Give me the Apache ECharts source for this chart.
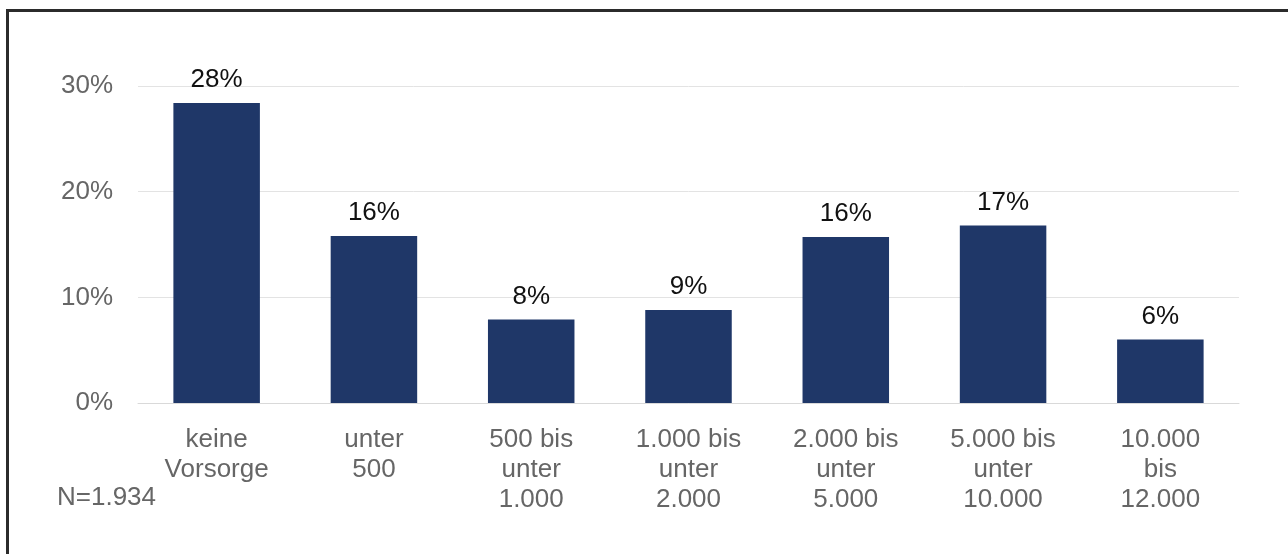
<!DOCTYPE html>
<html>
<head>
<meta charset="utf-8">
<script src="https://cdn.jsdelivr.net/npm/echarts@6/dist/echarts.min.js"></script>
<style>
  html, body { margin: 0; padding: 0; background: #fff; }
  #frame { position: absolute; left: 6px; top: 9px; width: 1290px; height: 560px;
           border-left: 3px solid #2b2b2b; border-top: 3px solid #2b2b2b; }
  #chart { position: absolute; left: 0; top: 0; width: 1288px; height: 554px; }
</style>
</head>
<body>
<div id="chart"></div>
<div id="frame"></div>
<script>
// Share of respondents by amount of provision (in percent)
const categories = [
  'keine\nVorsorge',
  'unter\n500',
  '500 bis\nunter\n1.000',
  '1.000 bis\nunter\n2.000',
  '2.000 bis\nunter\n5.000',
  '5.000 bis\nunter\n10.000',
  '10.000\nbis\n12.000'
];
const shares = [28.4, 15.8, 7.9, 8.8, 15.7, 16.8, 6.0];
const yTicks = [0, 10, 20, 30];
const sampleNote = 'N=1.934';

const chart = echarts.init(document.getElementById('chart'));
const font = '"Liberation Sans", Arial, sans-serif';

chart.setOption({
  animation: false,
  grid: { left: 138, right: 49, top: 86, bottom: 151 },
  graphic: [{
    type: 'text', left: 57, top: 485,
    style: { text: sampleNote, fill: '#666666', font: '26px ' + font }
  }],
  xAxis: {
    type: 'category',
    data: categories,
    axisTick: { show: false },
    axisLine: { show: true, lineStyle: { color: '#d9d9d9', width: 1 } },
    axisLabel: {
      color: '#666666', fontFamily: font, fontSize: 26,
      lineHeight: 30, margin: 22, interval: 0
    }
  },
  yAxis: {
    type: 'value',
    min: yTicks[0], max: yTicks[yTicks.length - 1], interval: 10,
    axisLine: { show: false },
    axisTick: { show: false },
    splitLine: { lineStyle: { color: '#e3e3e3', width: 1 } },
    axisLabel: {
      color: '#666666', fontFamily: font, fontSize: 26, margin: 25,
      formatter: v => v + '%'
    }
  },
  series: [{
    type: 'bar',
    data: shares,
    barCategoryGap: '45%',
    itemStyle: { color: '#1f3768' },
    label: {
      show: true, position: 'top', distance: 10,
      color: '#111', fontFamily: font, fontSize: 26,
      formatter: p => Math.round(p.value) + '%'
    }
  }]
});
</script>
</body>
</html>
